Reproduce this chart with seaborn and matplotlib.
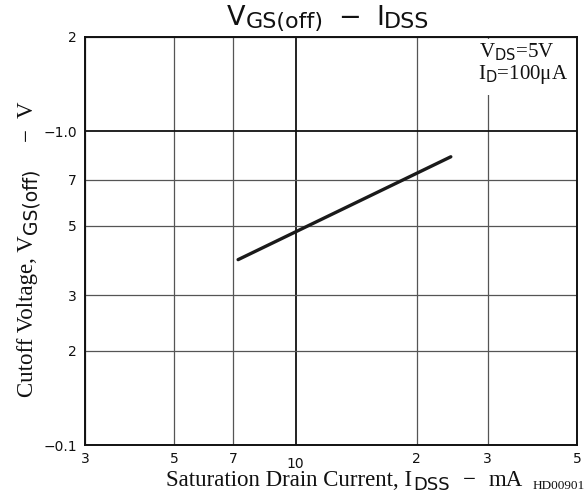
import matplotlib
matplotlib.use("Agg")
import matplotlib.pyplot as plt
import matplotlib.transforms as mtransforms
from matplotlib.ticker import NullLocator, FixedLocator
from matplotlib.patches import Rectangle
import seaborn as sns
import pandas as pd

# ---- data ----
idss_mA = [7.2, 24.3]
vgs_off_V = [0.39, 0.83]

x_ticks = [3, 5, 7, 10, 20, 30, 50]
x_tick_labels = ["3", "5", "7", "10", "2", "3", "5"]
y_ticks = [0.1, 0.2, 0.3, 0.5, 0.7, 1.0, 2.0]
y_tick_labels = ["\u22120.1", "2", "3", "5", "7", "\u22121.0", "2"]

cond_line1 = "V$_{\\mathsf{DS}}$=5V"
cond_line2 = "I$_{\\mathsf{D}}$=100\u03bcA"
code_text = "HD00901"

sns.set_style("white")
plt.rcParams["font.family"] = ["DejaVu Sans"]
plt.rcParams["mathtext.fontset"] = "custom"
plt.rcParams["mathtext.rm"] = "Liberation Serif"
plt.rcParams["mathtext.sf"] = "DejaVu Sans"
plt.rcParams["mathtext.it"] = "Liberation Serif:italic"

W, H = 587, 494
fig = plt.figure(figsize=(W / 100, H / 100), dpi=100)
fig.patch.set_facecolor("white")
ax = fig.add_axes([85 / W, 1 - 445 / H, (577 - 85) / W, (445 - 37) / H])

df = pd.DataFrame({"IDSS": idss_mA, "VGS": vgs_off_V})
sns.lineplot(data=df, x="IDSS", y="VGS", ax=ax, color="#1a1a1a",
             linewidth=2.4, zorder=5)

ax.set_xscale("log")
ax.set_yscale("log")
ax.set_xlim(3, 50)
ax.set_ylim(0.1, 2)
ax.xaxis.set_major_locator(FixedLocator(x_ticks))
ax.yaxis.set_major_locator(FixedLocator(y_ticks))
ax.xaxis.set_minor_locator(NullLocator())
ax.yaxis.set_minor_locator(NullLocator())
ax.set_xticklabels(x_tick_labels)
ax.set_yticklabels(y_tick_labels)
ax.set_xlabel("")
ax.set_ylabel("")
ax.tick_params(axis="both", length=0, labelsize=10, colors="#111111")
ax.tick_params(axis="x", pad=5)
ax.tick_params(axis="y", pad=6)

ax.grid(True, color="#555555", linewidth=0.9)
for v, gl in zip(x_ticks, ax.get_xgridlines()):
    if v == 10:
        gl.set_color("#111111"); gl.set_linewidth(1.3)
for v, gl in zip(y_ticks, ax.get_ygridlines()):
    if v == 1.0:
        gl.set_color("#111111"); gl.set_linewidth(1.3)

for s in ax.spines.values():
    s.set_color("#111111")
    s.set_linewidth(1.4)

for lab in ax.get_xticklabels():
    if lab.get_text() == "10":
        lab.set_transform(lab.get_transform() +
                          mtransforms.ScaledTranslation(0, -3.5 / 72, fig.dpi_scale_trans))

# white box behind conditions text
ax.add_patch(Rectangle(((470 - 85) / 492, (445 - 95) / 408), (576 - 470) / 492,
                       (95 - 39) / 408, transform=ax.transAxes,
                       facecolor="white", edgecolor="none", zorder=3))

fig.text(479 / W, 1 - 57 / H, cond_line1, family="Liberation Serif",
         size=15, ha="left", va="baseline", color="#111111")
fig.text(478 / W, 1 - 79 / H, cond_line2, family="Liberation Serif",
         size=15, ha="left", va="baseline", color="#111111")

renderer = fig.canvas.get_renderer()
ident = mtransforms.IdentityTransform()


def chain(pieces, x0, y0, vertical=False):
    """pieces: (text, size, family, baseline_shift_px, gap_before_px)"""
    pos = x0 if not vertical else y0
    for text, size, fam, dy, gap in pieces:
        pos += gap
        if not vertical:
            t = fig.text(pos, y0 - dy, text, size=size, family=fam,
                         ha="left", va="baseline", color="#111111",
                         transform=ident)
            pos = t.get_window_extent(renderer).x1
        else:
            t = fig.text(x0 + dy, pos, text, size=size, family=fam,
                         ha="left", va="baseline", rotation=90,
                         rotation_mode="anchor", color="#111111",
                         transform=ident)
            pos = t.get_window_extent(renderer).y1


SANS = "DejaVu Sans"
SERIF = "Liberation Serif"

# title
chain([("V", 19.5, SANS, 0, 0),
       ("GS(off)", 16, SANS, 3, 0),
       ("\u2212", 19.5, SANS, 0, 15),
       ("I", 19.5, SANS, 0, 15),
       ("DSS", 16, SANS, 3, 0)],
      227, H - 25)

# x label
chain([("Saturation Drain Current, I", 16.5, SERIF, 0, 0),
       ("DSS", 13, SANS, 4, 1),
       ("\u2212", 16.5, SERIF, 0, 13),
       ("mA", 16.5, SERIF, 0, 13)],
      166, H - 486)

# y label
chain([("Cutoff Voltage, V", 16.5, SERIF, 0, 0),
       ("GS(off)", 13.5, SANS, 4, 1),
       ("\u2212", 16.5, SERIF, 0, 28),
       ("V", 16.5, SERIF, 0, 10)],
      33, H - 397, vertical=True)

fig.text(585 / W, 1 - 489 / H, code_text, family=SERIF,
         size=9.5, ha="right", va="baseline", color="#111111")

fig.savefig("out.png", dpi=100)
